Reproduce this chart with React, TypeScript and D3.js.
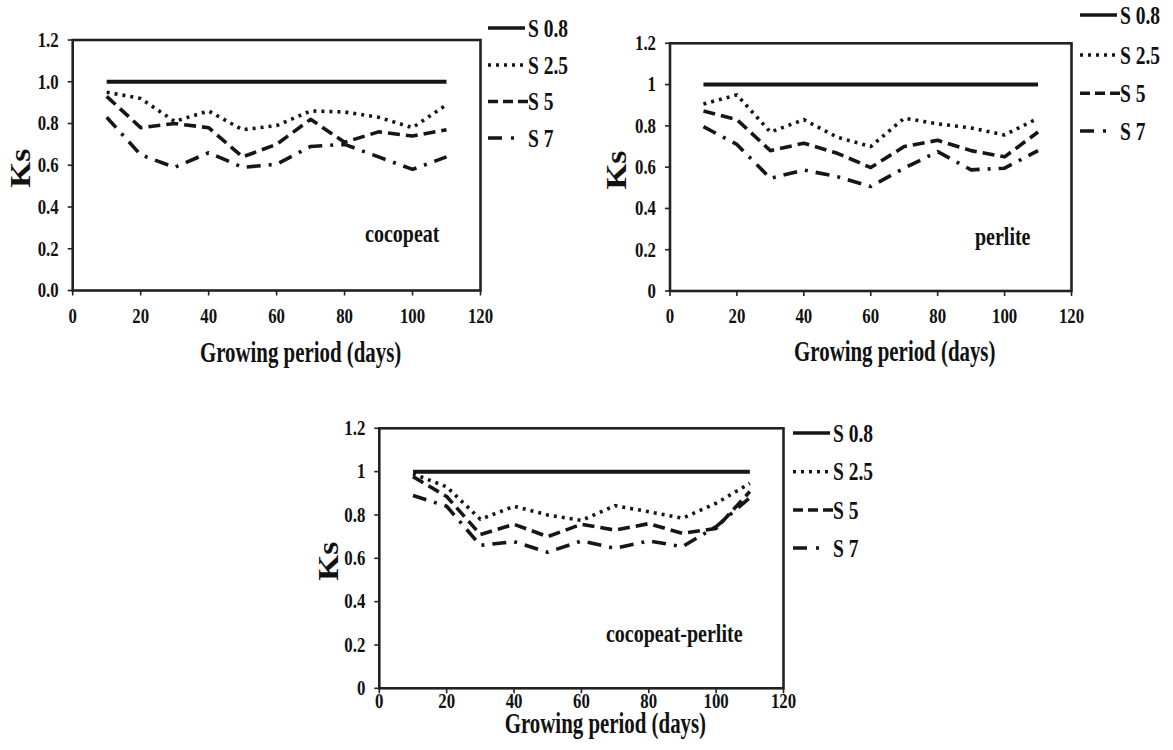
import React from "react";
import * as d3 from "d3";

// ---------- data ----------
const DAYS = [10, 20, 30, 40, 50, 60, 70, 80, 90, 100, 110];
const SERIES_NAMES = ["S 0.8", "S 2.5", "S 5", "S 7"];
const X_TICKS = [0, 20, 40, 60, 80, 100, 120];
const Y_TICKS = [0, 0.2, 0.4, 0.6, 0.8, 1.0, 1.2];

const cocopeatS08 = [1, 1, 1, 1, 1, 1, 1, 1, 1, 1, 1];
const cocopeatS25 = [0.95, 0.92, 0.81, 0.86, 0.77, 0.79, 0.86, 0.855, 0.83, 0.78, 0.89];
const cocopeatS5 = [0.93, 0.78, 0.8, 0.78, 0.64, 0.7, 0.82, 0.71, 0.76, 0.74, 0.77];
const cocopeatS7 = [0.83, 0.65, 0.59, 0.66, 0.59, 0.605, 0.69, 0.7, 0.64, 0.58, 0.64];

const perliteS08 = [1, 1, 1, 1, 1, 1, 1, 1, 1, 1, 1];
const perliteS25 = [0.906, 0.95, 0.77, 0.83, 0.745, 0.7, 0.837, 0.81, 0.79, 0.756, 0.837];
const perliteS5 = [0.872, 0.83, 0.68, 0.716, 0.667, 0.598, 0.7, 0.73, 0.68, 0.65, 0.77];
const perliteS7 = [0.796, 0.71, 0.546, 0.586, 0.554, 0.506, 0.595, 0.675, 0.587, 0.595, 0.68];

const mixS08 = [1, 1, 1, 1, 1, 1, 1, 1, 1, 1, 1];
const mixS25 = [0.99, 0.93, 0.78, 0.84, 0.8, 0.775, 0.843, 0.815, 0.785, 0.854, 0.946];
const mixS5 = [0.977, 0.885, 0.71, 0.757, 0.7, 0.757, 0.73, 0.76, 0.715, 0.738, 0.908];
const mixS7 = [0.89, 0.84, 0.66, 0.677, 0.628, 0.68, 0.646, 0.68, 0.654, 0.746, 0.88];

// ---------- styles ----------
const FONT = "'Liberation Serif', 'Times New Roman', serif";
const INK = "#161616";
const DASHES = ["none", "3 5", "12 6", "14 8 3 8"];
const LEG_DASHES = ["none", "3 5", "10 5", "14 9 3 20"];
const LEG_LEN = [37, 35, 40, 37];

type PanelCfg = {
  label: string;
  series: number[][];
  fmt: (v: number) => string;
  x0: number;
  x1: number;
  yTop: number;
  yBot: number;
  legX: number;
  legY: number[];
  labelY: number;
  xLabelGap: number;
  titleGap: number;
  ksX: number;
};

const fmt1 = (v: number) => v.toFixed(1);
const fmtG = (v: number) => String(+v.toFixed(1));

const PANELS: PanelCfg[] = [
  {
    label: "cocopeat",
    series: [cocopeatS08, cocopeatS25, cocopeatS5, cocopeatS7],
    fmt: fmt1,
    x0: 72.7, x1: 480.5, yTop: 40, yBot: 290.5,
    legX: 488, legY: [28, 65, 101.5, 138],
    labelY: 242, xLabelGap: 32, titleGap: 71, ksX: 20,
  },
  {
    label: "perlite",
    series: [perliteS08, perliteS25, perliteS5, perliteS7],
    fmt: fmtG,
    x0: 670, x1: 1071.5, yTop: 43.3, yBot: 291,
    legX: 1080, legY: [15, 55, 93.3, 131],
    labelY: 245, xLabelGap: 32, titleGap: 70, ksX: 616,
  },
  {
    label: "cocopeat-perlite",
    series: [mixS08, mixS25, mixS5, mixS7],
    fmt: fmtG,
    x0: 379.3, x1: 783.5, yTop: 428.3, yBot: 688.3,
    legX: 793, legY: [433, 471.7, 510, 548],
    labelY: 642, xLabelGap: 20, titleGap: 45, ksX: 328,
  },
];

function CText(props: {
  x: number; y: number; size: number; anchor?: string; sx?: number; rotate?: number; children: any;
}) {
  const { x, y, size, anchor = "start", sx = 0.85, rotate = 0, children } = props;
  return (
    <text
      transform={`translate(${x},${y}) rotate(${rotate}) scale(${sx},1)`}
      textAnchor={anchor}
      fontSize={size}
      fontWeight="bold"
      fontFamily={FONT}
      fill="#111"
    >
      {children}
    </text>
  );
}

function Panel({ cfg }: { cfg: PanelCfg }) {
  const x = d3.scaleLinear().domain([0, 120]).range([cfg.x0, cfg.x1]);
  const y = d3.scaleLinear().domain([0, 1.2]).range([cfg.yBot, cfg.yTop]);
  const line = d3
    .line<number>()
    .x((_, i) => x(DAYS[i]))
    .y((v) => y(v));
  const cx = (cfg.x0 + cfg.x1) / 2;
  const cy = (cfg.yTop + cfg.yBot) / 2;
  return (
    <g>
      {cfg.series.map((s, i) => (
        <path
          key={i}
          d={line(s) || ""}
          fill="none"
          stroke={INK}
          strokeWidth={i === 0 ? 4 : 3.6}
          strokeDasharray={DASHES[i]}
          strokeLinejoin="round"
        />
      ))}
      <rect
        x={cfg.x0}
        y={cfg.yTop}
        width={cfg.x1 - cfg.x0}
        height={cfg.yBot - cfg.yTop}
        fill="none"
        stroke="#222"
        strokeWidth={2.6}
      />
      {Y_TICKS.map((t) => (
        <g key={"y" + t}>
          <line x1={cfg.x0 - 5} x2={cfg.x0} y1={y(t)} y2={y(t)} stroke="#222" strokeWidth={1.6} />
          <CText x={cfg.x0 - 14} y={y(t) + 6.8} size={21} anchor="end" sx={0.8}>
            {cfg.fmt(t)}
          </CText>
        </g>
      ))}
      {X_TICKS.map((t) => (
        <g key={"x" + t}>
          <line x1={x(t)} x2={x(t)} y1={cfg.yBot} y2={cfg.yBot + 5} stroke="#222" strokeWidth={1.6} />
          <CText x={x(t)} y={cfg.yBot + cfg.xLabelGap} size={21} anchor="middle" sx={0.8}>
            {t}
          </CText>
        </g>
      ))}
      <CText x={cx + 24} y={cfg.yBot + cfg.titleGap} size={29} anchor="middle" sx={0.72}>
        Growing period (days)
      </CText>
      <CText x={cfg.ksX + 10} y={cy + 3} size={29} anchor="middle" sx={1.15} rotate={-90}>
        Ks
      </CText>
      <CText x={cfg.x1 - 41} y={cfg.labelY} size={25} anchor="end" sx={0.8}>
        {cfg.label}
      </CText>
      {SERIES_NAMES.map((name, i) => {
        const ly = cfg.legY[i];
        return (
          <g key={name}>
            <line
              x1={cfg.legX}
              x2={cfg.legX + LEG_LEN[i]}
              y1={ly}
              y2={ly}
              stroke={INK}
              strokeWidth={i === 0 ? 3.6 : 3.4}
              strokeDasharray={LEG_DASHES[i]}
            />
            <CText x={cfg.legX + 40} y={ly + 8.5} size={25} sx={0.78}>
              {name}
            </CText>
          </g>
        );
      })}
    </g>
  );
}

export default function App() {
  return (
    <svg
      width={1173}
      height={750}
      style={{ position: "absolute", left: 0, top: 0, background: "#fff" }}
    >
      <rect width={1173} height={750} fill="#fff" />
      {PANELS.map((p) => (
        <Panel key={p.label} cfg={p} />
      ))}
    </svg>
  );
}
